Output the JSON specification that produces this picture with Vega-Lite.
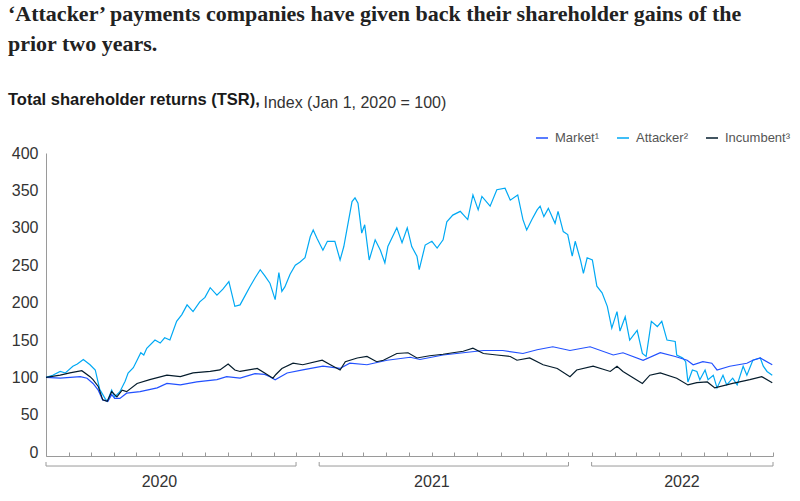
{
  "$schema": "https://vega.github.io/schema/vega-lite/v6.json",
  "width": 727,
  "height": 303,
  "autosize": {"type": "none"},
  "padding": {"left": 46, "top": 153, "right": 27, "bottom": 45},
  "background": "white",
  "config": {
    "view": {"stroke": null},
    "font": "Liberation Sans",
    "axisY": {"labelOverlap": false, "labelFontSize": 16, "labelColor": "#333333", "labelPadding": 8, "ticks": false, "grid": false, "domainColor": "#9a9a9a"},
    "axisX": {"labelOverlap": false, "grid": false}
  },
  "title": {
    "text": ["‘Attacker’ payments companies have given back their shareholder gains of the", "prior two years."],
    "subtitle": "Total shareholder returns (TSR),",
    "anchor": "start",
    "frame": "group",
    "orient": "top",
    "dx": -38,
    "font": "Liberation Serif",
    "fontSize": 22,
    "fontWeight": "bold",
    "color": "#222222",
    "lineHeight": 30,
    "subtitleFont": "Liberation Sans",
    "subtitleFontSize": 16.5,
    "subtitleFontWeight": "bold",
    "subtitleColor": "#1a1a1a",
    "subtitlePadding": 36,
    "offset": -15
  },
  "datasets": {
    "tsr": [
      {"date": "2020-01-01", "series": "Attacker", "value": 100},
      {"date": "2020-01-10", "series": "Attacker", "value": 103},
      {"date": "2020-01-20", "series": "Attacker", "value": 108},
      {"date": "2020-01-27", "series": "Attacker", "value": 106},
      {"date": "2020-02-06", "series": "Attacker", "value": 115},
      {"date": "2020-02-12", "series": "Attacker", "value": 118},
      {"date": "2020-02-20", "series": "Attacker", "value": 124},
      {"date": "2020-02-29", "series": "Attacker", "value": 117},
      {"date": "2020-03-07", "series": "Attacker", "value": 110},
      {"date": "2020-03-13", "series": "Attacker", "value": 84},
      {"date": "2020-03-20", "series": "Attacker", "value": 72},
      {"date": "2020-03-23", "series": "Attacker", "value": 68},
      {"date": "2020-03-29", "series": "Attacker", "value": 83},
      {"date": "2020-04-02", "series": "Attacker", "value": 74},
      {"date": "2020-04-09", "series": "Attacker", "value": 81},
      {"date": "2020-04-16", "series": "Attacker", "value": 95},
      {"date": "2020-04-20", "series": "Attacker", "value": 106},
      {"date": "2020-04-27", "series": "Attacker", "value": 113},
      {"date": "2020-05-02", "series": "Attacker", "value": 123},
      {"date": "2020-05-07", "series": "Attacker", "value": 133},
      {"date": "2020-05-11", "series": "Attacker", "value": 130},
      {"date": "2020-05-15", "series": "Attacker", "value": 139},
      {"date": "2020-05-26", "series": "Attacker", "value": 150},
      {"date": "2020-06-02", "series": "Attacker", "value": 146},
      {"date": "2020-06-08", "series": "Attacker", "value": 153},
      {"date": "2020-06-15", "series": "Attacker", "value": 150},
      {"date": "2020-06-24", "series": "Attacker", "value": 175},
      {"date": "2020-07-01", "series": "Attacker", "value": 184},
      {"date": "2020-07-08", "series": "Attacker", "value": 197},
      {"date": "2020-07-16", "series": "Attacker", "value": 188},
      {"date": "2020-07-25", "series": "Attacker", "value": 201},
      {"date": "2020-08-01", "series": "Attacker", "value": 207},
      {"date": "2020-08-08", "series": "Attacker", "value": 220},
      {"date": "2020-08-17", "series": "Attacker", "value": 210},
      {"date": "2020-08-25", "series": "Attacker", "value": 218},
      {"date": "2020-09-02", "series": "Attacker", "value": 228},
      {"date": "2020-09-10", "series": "Attacker", "value": 195},
      {"date": "2020-09-17", "series": "Attacker", "value": 197},
      {"date": "2020-09-23", "series": "Attacker", "value": 208},
      {"date": "2020-09-30", "series": "Attacker", "value": 221},
      {"date": "2020-10-07", "series": "Attacker", "value": 233},
      {"date": "2020-10-14", "series": "Attacker", "value": 244},
      {"date": "2020-10-20", "series": "Attacker", "value": 236},
      {"date": "2020-10-27", "series": "Attacker", "value": 226},
      {"date": "2020-11-03", "series": "Attacker", "value": 204},
      {"date": "2020-11-08", "series": "Attacker", "value": 240},
      {"date": "2020-11-12", "series": "Attacker", "value": 215},
      {"date": "2020-11-16", "series": "Attacker", "value": 221},
      {"date": "2020-11-23", "series": "Attacker", "value": 238},
      {"date": "2020-11-30", "series": "Attacker", "value": 250},
      {"date": "2020-12-06", "series": "Attacker", "value": 254},
      {"date": "2020-12-13", "series": "Attacker", "value": 260},
      {"date": "2020-12-20", "series": "Attacker", "value": 288},
      {"date": "2020-12-24", "series": "Attacker", "value": 297},
      {"date": "2020-12-29", "series": "Attacker", "value": 286},
      {"date": "2021-01-06", "series": "Attacker", "value": 270},
      {"date": "2021-01-12", "series": "Attacker", "value": 282},
      {"date": "2021-01-22", "series": "Attacker", "value": 282},
      {"date": "2021-01-29", "series": "Attacker", "value": 257},
      {"date": "2021-02-03", "series": "Attacker", "value": 275},
      {"date": "2021-02-07", "series": "Attacker", "value": 297},
      {"date": "2021-02-14", "series": "Attacker", "value": 335},
      {"date": "2021-02-18", "series": "Attacker", "value": 340},
      {"date": "2021-02-22", "series": "Attacker", "value": 333},
      {"date": "2021-02-27", "series": "Attacker", "value": 293},
      {"date": "2021-03-03", "series": "Attacker", "value": 304},
      {"date": "2021-03-09", "series": "Attacker", "value": 257},
      {"date": "2021-03-17", "series": "Attacker", "value": 284},
      {"date": "2021-03-24", "series": "Attacker", "value": 270},
      {"date": "2021-03-30", "series": "Attacker", "value": 253},
      {"date": "2021-04-03", "series": "Attacker", "value": 275},
      {"date": "2021-04-15", "series": "Attacker", "value": 300},
      {"date": "2021-04-22", "series": "Attacker", "value": 280},
      {"date": "2021-04-29", "series": "Attacker", "value": 300},
      {"date": "2021-05-05", "series": "Attacker", "value": 275},
      {"date": "2021-05-12", "series": "Attacker", "value": 262},
      {"date": "2021-05-15", "series": "Attacker", "value": 244},
      {"date": "2021-05-23", "series": "Attacker", "value": 277},
      {"date": "2021-06-01", "series": "Attacker", "value": 282},
      {"date": "2021-06-08", "series": "Attacker", "value": 273},
      {"date": "2021-06-16", "series": "Attacker", "value": 284},
      {"date": "2021-06-21", "series": "Attacker", "value": 308},
      {"date": "2021-06-29", "series": "Attacker", "value": 317},
      {"date": "2021-07-09", "series": "Attacker", "value": 322},
      {"date": "2021-07-19", "series": "Attacker", "value": 311},
      {"date": "2021-07-26", "series": "Attacker", "value": 344},
      {"date": "2021-08-02", "series": "Attacker", "value": 324},
      {"date": "2021-08-07", "series": "Attacker", "value": 342},
      {"date": "2021-08-18", "series": "Attacker", "value": 329},
      {"date": "2021-08-27", "series": "Attacker", "value": 351},
      {"date": "2021-09-07", "series": "Attacker", "value": 353},
      {"date": "2021-09-14", "series": "Attacker", "value": 337},
      {"date": "2021-09-24", "series": "Attacker", "value": 344},
      {"date": "2021-10-01", "series": "Attacker", "value": 311},
      {"date": "2021-10-06", "series": "Attacker", "value": 297},
      {"date": "2021-10-13", "series": "Attacker", "value": 311},
      {"date": "2021-10-20", "series": "Attacker", "value": 324},
      {"date": "2021-10-24", "series": "Attacker", "value": 329},
      {"date": "2021-10-29", "series": "Attacker", "value": 315},
      {"date": "2021-11-04", "series": "Attacker", "value": 326},
      {"date": "2021-11-13", "series": "Attacker", "value": 306},
      {"date": "2021-11-17", "series": "Attacker", "value": 322},
      {"date": "2021-11-24", "series": "Attacker", "value": 295},
      {"date": "2021-11-30", "series": "Attacker", "value": 291},
      {"date": "2021-12-06", "series": "Attacker", "value": 262},
      {"date": "2021-12-10", "series": "Attacker", "value": 282},
      {"date": "2021-12-17", "series": "Attacker", "value": 257},
      {"date": "2021-12-21", "series": "Attacker", "value": 239},
      {"date": "2021-12-26", "series": "Attacker", "value": 260},
      {"date": "2022-01-02", "series": "Attacker", "value": 257},
      {"date": "2022-01-08", "series": "Attacker", "value": 222},
      {"date": "2022-01-15", "series": "Attacker", "value": 213},
      {"date": "2022-01-22", "series": "Attacker", "value": 195},
      {"date": "2022-01-28", "series": "Attacker", "value": 166},
      {"date": "2022-02-04", "series": "Attacker", "value": 188},
      {"date": "2022-02-08", "series": "Attacker", "value": 162},
      {"date": "2022-02-15", "series": "Attacker", "value": 181},
      {"date": "2022-02-21", "series": "Attacker", "value": 150},
      {"date": "2022-03-03", "series": "Attacker", "value": 163},
      {"date": "2022-03-10", "series": "Attacker", "value": 132},
      {"date": "2022-03-15", "series": "Attacker", "value": 128},
      {"date": "2022-03-22", "series": "Attacker", "value": 175},
      {"date": "2022-03-30", "series": "Attacker", "value": 168},
      {"date": "2022-04-05", "series": "Attacker", "value": 175},
      {"date": "2022-04-12", "series": "Attacker", "value": 150},
      {"date": "2022-04-23", "series": "Attacker", "value": 148},
      {"date": "2022-04-25", "series": "Attacker", "value": 130},
      {"date": "2022-05-03", "series": "Attacker", "value": 126},
      {"date": "2022-05-07", "series": "Attacker", "value": 121},
      {"date": "2022-05-10", "series": "Attacker", "value": 94},
      {"date": "2022-05-16", "series": "Attacker", "value": 110},
      {"date": "2022-05-22", "series": "Attacker", "value": 108},
      {"date": "2022-05-26", "series": "Attacker", "value": 97},
      {"date": "2022-06-02", "series": "Attacker", "value": 110},
      {"date": "2022-06-06", "series": "Attacker", "value": 97},
      {"date": "2022-06-13", "series": "Attacker", "value": 103},
      {"date": "2022-06-18", "series": "Attacker", "value": 86},
      {"date": "2022-06-26", "series": "Attacker", "value": 103},
      {"date": "2022-07-01", "series": "Attacker", "value": 90},
      {"date": "2022-07-09", "series": "Attacker", "value": 99},
      {"date": "2022-07-15", "series": "Attacker", "value": 90},
      {"date": "2022-07-23", "series": "Attacker", "value": 115},
      {"date": "2022-07-28", "series": "Attacker", "value": 103},
      {"date": "2022-08-05", "series": "Attacker", "value": 123},
      {"date": "2022-08-15", "series": "Attacker", "value": 126},
      {"date": "2022-08-19", "series": "Attacker", "value": 115},
      {"date": "2022-08-24", "series": "Attacker", "value": 108},
      {"date": "2022-08-31", "series": "Attacker", "value": 103},

      {"date": "2020-01-01", "series": "Market", "value": 100},
      {"date": "2020-01-20", "series": "Market", "value": 99},
      {"date": "2020-02-16", "series": "Market", "value": 101},
      {"date": "2020-02-25", "series": "Market", "value": 99},
      {"date": "2020-03-04", "series": "Market", "value": 92},
      {"date": "2020-03-11", "series": "Market", "value": 83},
      {"date": "2020-03-17", "series": "Market", "value": 70},
      {"date": "2020-03-24", "series": "Market", "value": 68},
      {"date": "2020-03-29", "series": "Market", "value": 77},
      {"date": "2020-04-02", "series": "Market", "value": 72},
      {"date": "2020-04-09", "series": "Market", "value": 72},
      {"date": "2020-04-18", "series": "Market", "value": 79},
      {"date": "2020-05-06", "series": "Market", "value": 81},
      {"date": "2020-05-29", "series": "Market", "value": 86},
      {"date": "2020-06-11", "series": "Market", "value": 92},
      {"date": "2020-06-29", "series": "Market", "value": 90},
      {"date": "2020-07-21", "series": "Market", "value": 94},
      {"date": "2020-08-17", "series": "Market", "value": 97},
      {"date": "2020-08-30", "series": "Market", "value": 101},
      {"date": "2020-09-17", "series": "Market", "value": 99},
      {"date": "2020-10-07", "series": "Market", "value": 105},
      {"date": "2020-10-20", "series": "Market", "value": 104},
      {"date": "2020-10-27", "series": "Market", "value": 101},
      {"date": "2020-11-03", "series": "Market", "value": 97},
      {"date": "2020-11-19", "series": "Market", "value": 106},
      {"date": "2020-12-10", "series": "Market", "value": 110},
      {"date": "2021-01-06", "series": "Market", "value": 115},
      {"date": "2021-01-29", "series": "Market", "value": 112},
      {"date": "2021-02-11", "series": "Market", "value": 119},
      {"date": "2021-03-06", "series": "Market", "value": 117},
      {"date": "2021-04-02", "series": "Market", "value": 123},
      {"date": "2021-05-03", "series": "Market", "value": 127},
      {"date": "2021-05-16", "series": "Market", "value": 124},
      {"date": "2021-06-16", "series": "Market", "value": 130},
      {"date": "2021-07-13", "series": "Market", "value": 133},
      {"date": "2021-08-09", "series": "Market", "value": 136},
      {"date": "2021-09-04", "series": "Market", "value": 136},
      {"date": "2021-10-01", "series": "Market", "value": 132},
      {"date": "2021-10-20", "series": "Market", "value": 137},
      {"date": "2021-11-10", "series": "Market", "value": 141},
      {"date": "2021-12-03", "series": "Market", "value": 136},
      {"date": "2021-12-30", "series": "Market", "value": 141},
      {"date": "2022-01-30", "series": "Market", "value": 130},
      {"date": "2022-02-12", "series": "Market", "value": 133},
      {"date": "2022-03-11", "series": "Market", "value": 123},
      {"date": "2022-04-03", "series": "Market", "value": 133},
      {"date": "2022-04-23", "series": "Market", "value": 128},
      {"date": "2022-05-09", "series": "Market", "value": 123},
      {"date": "2022-05-17", "series": "Market", "value": 117},
      {"date": "2022-05-30", "series": "Market", "value": 121},
      {"date": "2022-06-11", "series": "Market", "value": 119},
      {"date": "2022-06-18", "series": "Market", "value": 110},
      {"date": "2022-07-05", "series": "Market", "value": 115},
      {"date": "2022-07-28", "series": "Market", "value": 119},
      {"date": "2022-08-05", "series": "Market", "value": 123},
      {"date": "2022-08-15", "series": "Market", "value": 126},
      {"date": "2022-08-31", "series": "Market", "value": 117},

      {"date": "2020-01-01", "series": "Incumbent", "value": 100},
      {"date": "2020-01-20", "series": "Incumbent", "value": 103},
      {"date": "2020-02-02", "series": "Incumbent", "value": 106},
      {"date": "2020-02-18", "series": "Incumbent", "value": 109},
      {"date": "2020-02-29", "series": "Incumbent", "value": 101},
      {"date": "2020-03-04", "series": "Incumbent", "value": 97},
      {"date": "2020-03-11", "series": "Incumbent", "value": 88},
      {"date": "2020-03-17", "series": "Incumbent", "value": 70},
      {"date": "2020-03-23", "series": "Incumbent", "value": 68},
      {"date": "2020-03-29", "series": "Incumbent", "value": 81},
      {"date": "2020-04-05", "series": "Incumbent", "value": 74},
      {"date": "2020-04-12", "series": "Incumbent", "value": 83},
      {"date": "2020-04-18", "series": "Incumbent", "value": 81},
      {"date": "2020-05-02", "series": "Incumbent", "value": 92},
      {"date": "2020-05-19", "series": "Incumbent", "value": 97},
      {"date": "2020-06-11", "series": "Incumbent", "value": 103},
      {"date": "2020-06-29", "series": "Incumbent", "value": 101},
      {"date": "2020-07-16", "series": "Incumbent", "value": 106},
      {"date": "2020-08-08", "series": "Incumbent", "value": 108},
      {"date": "2020-08-21", "series": "Incumbent", "value": 110},
      {"date": "2020-09-01", "series": "Incumbent", "value": 118},
      {"date": "2020-09-10", "series": "Incumbent", "value": 110},
      {"date": "2020-09-17", "series": "Incumbent", "value": 108},
      {"date": "2020-10-10", "series": "Incumbent", "value": 112},
      {"date": "2020-10-20", "series": "Incumbent", "value": 106},
      {"date": "2020-10-31", "series": "Incumbent", "value": 99},
      {"date": "2020-11-04", "series": "Incumbent", "value": 104},
      {"date": "2020-11-12", "series": "Incumbent", "value": 112},
      {"date": "2020-11-27", "series": "Incumbent", "value": 119},
      {"date": "2020-12-10", "series": "Incumbent", "value": 117},
      {"date": "2021-01-05", "series": "Incumbent", "value": 123},
      {"date": "2021-01-16", "series": "Incumbent", "value": 117},
      {"date": "2021-01-29", "series": "Incumbent", "value": 110},
      {"date": "2021-02-05", "series": "Incumbent", "value": 121},
      {"date": "2021-02-21", "series": "Incumbent", "value": 126},
      {"date": "2021-03-06", "series": "Incumbent", "value": 128},
      {"date": "2021-03-19", "series": "Incumbent", "value": 121},
      {"date": "2021-03-28", "series": "Incumbent", "value": 123},
      {"date": "2021-04-15", "series": "Incumbent", "value": 132},
      {"date": "2021-04-30", "series": "Incumbent", "value": 133},
      {"date": "2021-05-12", "series": "Incumbent", "value": 126},
      {"date": "2021-05-29", "series": "Incumbent", "value": 129},
      {"date": "2021-06-16", "series": "Incumbent", "value": 131},
      {"date": "2021-06-29", "series": "Incumbent", "value": 133},
      {"date": "2021-07-13", "series": "Incumbent", "value": 135},
      {"date": "2021-07-26", "series": "Incumbent", "value": 139},
      {"date": "2021-08-09", "series": "Incumbent", "value": 132},
      {"date": "2021-08-27", "series": "Incumbent", "value": 130},
      {"date": "2021-09-14", "series": "Incumbent", "value": 128},
      {"date": "2021-09-23", "series": "Incumbent", "value": 123},
      {"date": "2021-10-10", "series": "Incumbent", "value": 126},
      {"date": "2021-10-28", "series": "Incumbent", "value": 117},
      {"date": "2021-11-16", "series": "Incumbent", "value": 112},
      {"date": "2021-12-03", "series": "Incumbent", "value": 101},
      {"date": "2021-12-12", "series": "Incumbent", "value": 110},
      {"date": "2022-01-03", "series": "Incumbent", "value": 115},
      {"date": "2022-01-26", "series": "Incumbent", "value": 108},
      {"date": "2022-02-04", "series": "Incumbent", "value": 115},
      {"date": "2022-02-12", "series": "Incumbent", "value": 108},
      {"date": "2022-03-10", "series": "Incumbent", "value": 92},
      {"date": "2022-03-20", "series": "Incumbent", "value": 103},
      {"date": "2022-04-03", "series": "Incumbent", "value": 106},
      {"date": "2022-04-25", "series": "Incumbent", "value": 99},
      {"date": "2022-05-10", "series": "Incumbent", "value": 90},
      {"date": "2022-05-22", "series": "Incumbent", "value": 93},
      {"date": "2022-06-05", "series": "Incumbent", "value": 94},
      {"date": "2022-06-15", "series": "Incumbent", "value": 86},
      {"date": "2022-07-09", "series": "Incumbent", "value": 92},
      {"date": "2022-08-01", "series": "Incumbent", "value": 97},
      {"date": "2022-08-17", "series": "Incumbent", "value": 101},
      {"date": "2022-08-31", "series": "Incumbent", "value": 93}
    ],
    "years": [
      {"year": "2020", "start": "2020-01-01", "end": "2020-12-01", "mid": "2020-06-01"},
      {"year": "2021", "start": "2021-01-01", "end": "2021-12-01", "mid": "2021-06-01"},
      {"year": "2022", "start": "2022-01-01", "end": "2022-09-01", "mid": "2022-05-02"}
    ]
  },
  "layer": [
    {
      "data": {"name": "tsr"},
      "mark": {"type": "line", "strokeWidth": 1.2},
      "encoding": {
        "x": {
          "field": "date",
          "type": "temporal",
          "scale": {"type": "utc", "domain": [{"year": 2020, "month": 1, "date": 1, "utc": true}, {"year": 2022, "month": 9, "date": 1, "utc": true}]},
          "axis": {"title": null, "labels": false, "ticks": true, "tickSize": -4, "tickColor": "#9a9a9a", "domainColor": "#9a9a9a", "tickCount": {"interval": "month", "step": 1}, "grid": false}
        },
        "y": {
          "field": "value",
          "type": "quantitative",
          "scale": {"domain": [-5, 400], "nice": false, "zero": false},
          "axis": {
            "title": "Index (Jan 1, 2020 = 100)",
            "titleAngle": 0,
            "titleAlign": "left",
            "titleBaseline": "alphabetic",
            "titleX": 217,
            "titleY": -46,
            "titleFont": "Liberation Sans",
            "titleFontSize": 16,
            "titleFontWeight": "normal",
            "titleColor": "#333333",
            "values": [0, 50, 100, 150, 200, 250, 300, 350, 400],
            "tickCount": 9,
            "labelOverlap": false,
            "ticks": false,
            "labelPadding": 8,
            "labelFontSize": 16,
            "labelColor": "#333333",
            "domainColor": "#9a9a9a",
            "grid": false
          }
        },
        "color": {
          "field": "series",
          "type": "nominal",
          "scale": {"domain": ["Market", "Attacker", "Incumbent"], "range": ["#2251ff", "#00a9f4", "#051c2c"]},
          "legend": {
            "title": null,
            "orient": "none",
            "legendX": 489,
            "legendY": -22,
            "direction": "horizontal",
            "symbolType": "stroke",
            "symbolSize": 144,
            "symbolStrokeWidth": 1.5,
            "labelFontSize": 13,
            "labelColor": "#555555",
            "columnPadding": 14,
            "labelOffset": 6,
            "labelExpr": "datum.label == 'Market' ? 'Market¹' : datum.label == 'Attacker' ? 'Attacker²' : 'Incumbent³'"
          }
        }
      }
    },
    {
      "data": {"name": "years"},
      "mark": {"type": "rule", "color": "#9a9a9a", "strokeWidth": 1},
      "encoding": {
        "x": {"field": "start", "type": "temporal"},
        "x2": {"field": "end"},
        "y": {"datum": -18.4, "type": "quantitative"}
      }
    },
    {
      "data": {"name": "years"},
      "mark": {"type": "rule", "color": "#9a9a9a", "strokeWidth": 1},
      "encoding": {
        "x": {"field": "start", "type": "temporal"},
        "y": {"datum": -13, "type": "quantitative"},
        "y2": {"datum": -18.4}
      }
    },
    {
      "data": {"name": "years"},
      "mark": {"type": "rule", "color": "#9a9a9a", "strokeWidth": 1},
      "encoding": {
        "x": {"field": "end", "type": "temporal"},
        "y": {"datum": -13, "type": "quantitative"},
        "y2": {"datum": -18.4}
      }
    },
    {
      "data": {"name": "years"},
      "mark": {"type": "text", "fontSize": 16, "color": "#333333", "baseline": "middle", "font": "Liberation Sans"},
      "encoding": {
        "x": {"field": "mid", "type": "temporal"},
        "y": {"datum": -40, "type": "quantitative"},
        "text": {"field": "year"}
      }
    }
  ]
}
